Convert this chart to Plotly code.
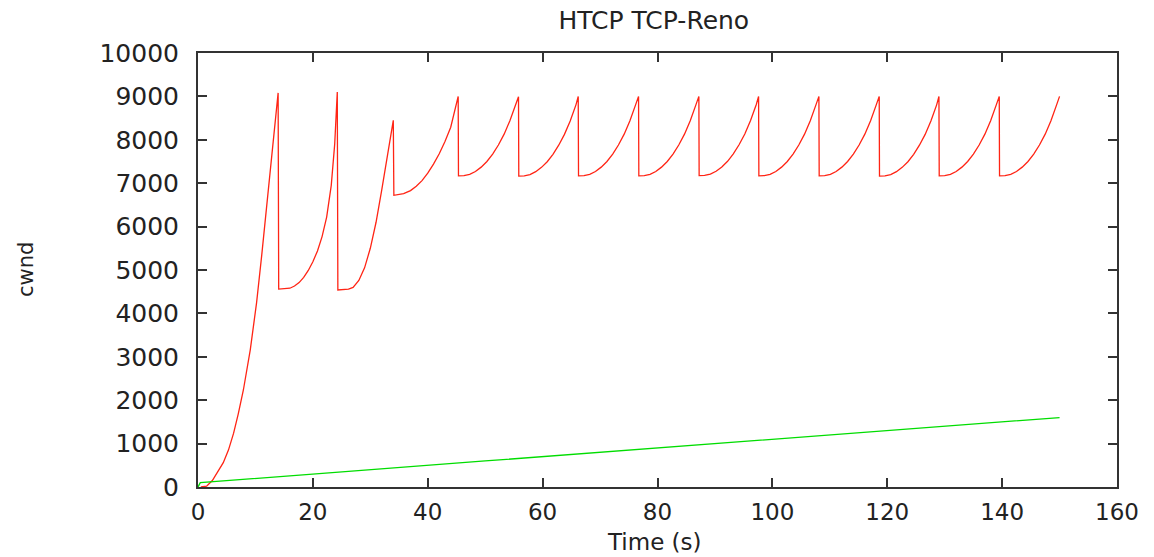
import plotly.graph_objects as go

# ---------------- data ----------------
title_text = "HTCP TCP-Reno"
x_label = "Time (s)"
y_label = "cwnd"

x_ticks = [0, 20, 40, 60, 80, 100, 120, 140, 160]
y_ticks = [0, 1000, 2000, 3000, 4000, 5000, 6000, 7000, 8000, 9000, 10000]

# HTCP (red) - start-up and first irregular cycles
htcp_start_t = [0.5, 1.5, 2.5, 3.5, 4.4, 5.3, 6.2, 7.0, 7.9, 9.1, 10.2, 11.1, 12.55, 13.95,
                14.05, 16.0, 16.8, 17.6, 18.4, 19.2, 20.0, 20.8, 21.6, 22.4, 23.2, 23.8, 24.25,
                24.35, 26.2, 27.0, 28.0, 29.0, 30.0, 31.0, 32.0, 33.0, 34.0,
                34.1, 35.8, 37.0, 38.0, 39.0, 40.0, 41.0, 42.0, 43.0, 44.0, 45.3]
htcp_start_cwnd = [0, 20, 150, 350, 560, 850, 1240, 1680, 2235, 3160, 4250, 5350, 7200, 9080,
                   4560, 4580, 4630, 4710, 4830, 4990, 5190, 5440, 5770, 6220, 6950, 7900, 9100,
                   4540, 4560, 4600, 4760, 5050, 5500, 6100, 6850, 7650, 8450,
                   6720, 6760, 6830, 6930, 7060, 7230, 7440, 7680, 7960, 8290, 9000]

# HTCP (red) - steady saw-tooth cycles (each: drop ... next peak)
htcp_cycles_t = [
    [45.35, 46.3, 47.3, 48.3, 49.3, 50.3, 51.3, 52.3, 53.3, 54.3, 55.3, 55.8],
    [55.85, 56.8, 57.8, 58.8, 59.8, 60.8, 61.8, 62.8, 63.8, 64.8, 65.8, 66.2],
    [66.25, 67.2, 68.2, 69.2, 70.2, 71.2, 72.2, 73.2, 74.2, 75.2, 76.2, 76.7],
    [76.75, 77.7, 78.7, 79.7, 80.7, 81.7, 82.7, 83.7, 84.7, 85.7, 86.7, 87.2],
    [87.25, 88.2, 89.2, 90.2, 91.2, 92.2, 93.2, 94.2, 95.2, 96.2, 97.2, 97.6],
    [97.65, 98.6, 99.6, 100.6, 101.6, 102.6, 103.6, 104.6, 105.6, 106.6, 107.6, 108.1],
    [108.15, 109.1, 110.1, 111.1, 112.1, 113.1, 114.1, 115.1, 116.1, 117.1, 118.1, 118.6],
    [118.65, 119.6, 120.6, 121.6, 122.6, 123.6, 124.6, 125.6, 126.6, 127.6, 128.6, 129.0],
    [129.05, 130.0, 131.0, 132.0, 133.0, 134.0, 135.0, 136.0, 137.0, 138.0, 139.0, 139.5],
    [139.55, 140.5, 141.5, 142.5, 143.5, 144.5, 145.5, 146.5, 147.5, 148.5, 149.5, 150.0],
]
htcp_cycles_cwnd = [
    [7170, 7175, 7205, 7270, 7370, 7500, 7670, 7880, 8130, 8440, 8810, 8990],
    [7165, 7170, 7200, 7265, 7365, 7495, 7665, 7875, 8125, 8435, 8805, 9000],
    [7170, 7175, 7205, 7270, 7370, 7500, 7670, 7880, 8130, 8440, 8810, 9000],
    [7170, 7175, 7205, 7270, 7370, 7500, 7670, 7880, 8130, 8440, 8810, 9000],
    [7175, 7180, 7210, 7275, 7375, 7505, 7675, 7885, 8135, 8445, 8815, 9000],
    [7170, 7175, 7205, 7270, 7370, 7500, 7670, 7880, 8130, 8440, 8810, 9000],
    [7170, 7175, 7205, 7270, 7370, 7500, 7670, 7880, 8130, 8440, 8810, 9000],
    [7165, 7170, 7200, 7265, 7365, 7495, 7665, 7875, 8125, 8435, 8805, 9000],
    [7170, 7175, 7205, 7270, 7370, 7500, 7670, 7880, 8130, 8440, 8810, 9000],
    [7170, 7175, 7205, 7270, 7370, 7500, 7670, 7880, 8130, 8440, 8810, 9000],
]

# TCP-Reno (green)
reno_t = [0.0, 0.4, 50.0, 100.0, 150.0]
reno_cwnd = [0, 100, 600, 1100, 1600]

# ---------------- build traces ----------------
red_t = list(htcp_start_t)
red_y = list(htcp_start_cwnd)
for ct, cy in zip(htcp_cycles_t, htcp_cycles_cwnd):
    red_t.extend(ct)
    red_y.extend(cy)

FONT = "DejaVu Sans"
TXT = "#222222"
AX = "#333333"

fig = go.Figure()
fig.add_trace(go.Scatter(x=red_t, y=red_y, mode="lines", name="HTCP",
                         line=dict(color="#ff2414", width=1.3)))
fig.add_trace(go.Scatter(x=reno_t, y=reno_cwnd, mode="lines", name="TCP-Reno",
                         line=dict(color="#00dd00", width=1.3)))

fig.update_layout(
    width=1154, height=557,
    margin=dict(l=198, r=37, t=53, b=70),
    paper_bgcolor="white", plot_bgcolor="white",
    showlegend=False,
    title=dict(text=title_text, x=0.496, xref="paper", xanchor="center",
               y=1 - 20 / 557, yref="container", yanchor="middle",
               font=dict(family=FONT, size=25, color=TXT)),
    font=dict(family=FONT, color=TXT),
    annotations=[
        dict(text=x_label, xref="paper", yref="paper", x=0.4967, y=-55 / 434,
             xanchor="center", yanchor="middle", showarrow=False,
             font=dict(family=FONT, size=23, color=TXT)),
        dict(text=y_label, xref="paper", yref="paper", x=-172 / 919, y=0.5,
             xanchor="center", yanchor="middle", showarrow=False, textangle=-90,
             font=dict(family=FONT, size=21, color=TXT)),
    ],
)
fig.update_xaxes(
    range=[0, 160], tickvals=x_ticks, ticktext=[str(v) for v in x_ticks],
    showgrid=False, zeroline=False,
    showline=True, linecolor=AX, linewidth=2, mirror="ticks",
    ticks="inside", ticklen=9, tickwidth=1.5, tickcolor=AX,
    tickfont=dict(family=FONT, size=23, color=TXT),
    ticklabelstandoff=3,
)
fig.update_yaxes(
    range=[0, 10000], tickvals=y_ticks, ticktext=[str(v) for v in y_ticks],
    showgrid=False, zeroline=False,
    showline=True, linecolor=AX, linewidth=2, mirror="ticks",
    ticks="inside", ticklen=9, tickwidth=1.5, tickcolor=AX,
    tickfont=dict(family=FONT, size=25, color=TXT),
    ticklabelstandoff=12,
)

fig.write_html("out.html")
